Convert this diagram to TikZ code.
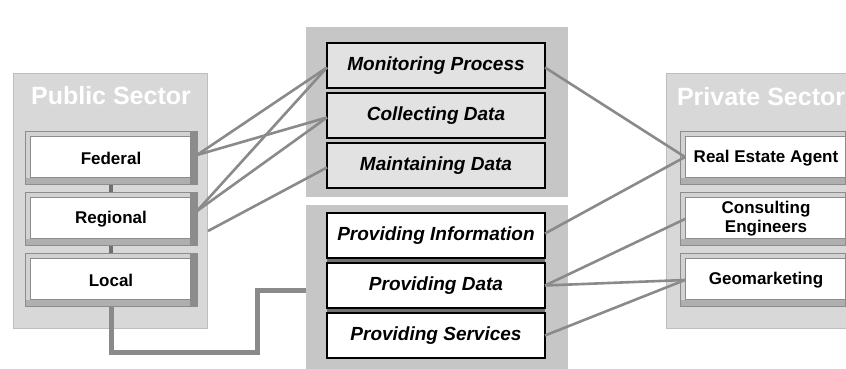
\documentclass[tikz,border=0pt]{standalone}
\usepackage{fontspec}
\setmainfont{Liberation Sans}
\usetikzlibrary{positioning,calc}

\definecolor{sectorfill}{RGB}{216,216,216}
\definecolor{sectorline}{RGB}{190,190,190}
\definecolor{taskpanel}{RGB}{198,198,198}
\definecolor{taskfill}{RGB}{226,226,226}
\definecolor{linkgray}{RGB}{138,138,138}
\definecolor{gapgray}{RGB}{112,112,112}
\definecolor{bevlight}{RGB}{210,210,210}
\definecolor{bevmid}{RGB}{175,175,175}
\definecolor{bevdark}{RGB}{140,140,140}

\pgfdeclarelayer{back}
\pgfdeclarelayer{mid}
\pgfsetlayers{back,mid,main}

\begin{document}
\begin{tikzpicture}[
      x=1pt, y=-1pt,
      every node/.style={inner sep=0pt, outer sep=0pt},
      panel/.style={anchor=north west, fill=sectorfill, draw=sectorline,
                    line width=0.8pt},
      mpanel/.style={anchor=north west, fill=taskpanel},
      title/.style={text=white, font=\fontsize{25}{28}\selectfont\bfseries},
      bevel/.style={draw=bevdark, line width=0.6pt, fill=bevlight,
                    minimum width=172pt, minimum height=53pt, align=center,
                    font=\fontsize{17}{19}\selectfont\bfseries,
                    path picture={
                      \fill[bevdark] ([xshift=-7pt]path picture bounding box.north east)
                        rectangle (path picture bounding box.south east);
                      \fill[bevmid] ([yshift=7pt]path picture bounding box.south west)
                        rectangle ([xshift=-7pt]path picture bounding box.south east);
                      \filldraw[fill=white, draw=bevdark, line width=0.5pt]
                        ([shift={(5pt,7pt)}]path picture bounding box.south west)
                        rectangle ([shift={(-7pt,-5pt)}]path picture bounding box.north east);
                    }},
      task/.style={draw=black, line width=2.2pt, minimum width=218pt,
                   minimum height=45pt,
                   font=\fontsize{19}{22}\selectfont\bfseries\itshape},
      taskup/.style={task, fill=taskfill},
      tasklow/.style={task, fill=white},
      link/.style={draw=linkgray, line width=2.6pt},
      stem/.style={draw=gapgray, line width=3.5pt},
      feed/.style={draw=linkgray, line width=5pt},
    ]
    \useasboundingbox (0,0) rectangle (846,369);

    % panels
    \begin{pgfonlayer}{back}
      \node[panel, minimum width=194pt, minimum height=255pt] (pubpanel) at (13,73) {};
      \node[mpanel, minimum width=262pt, minimum height=170pt] (uppanel) at (306,27) {};
      \node[mpanel, minimum width=262pt, minimum height=175pt] (lowpanel) at (306,205) {};
      \node[panel, minimum width=200pt, minimum height=255pt] (privpanel) at (666,73) {};
    \end{pgfonlayer}

    \node[title] (pubtitle) at (111,96) {Public Sector};
    \node[title, anchor=west] (privtitle) at (677,97) {Private Sector};

    % public sector
    \node[bevel] (fed) at (111,158) {Federal};
    \node[bevel, below=8pt of fed] (reg) {Regional};
    \node[bevel, below=8pt of reg] (loc) {Local};

    % tasks
    \node[taskup] (mon) at (436,65.5) {Monitoring Process};
    \node[taskup, below=5pt of mon] (coll) {Collecting Data};
    \node[taskup, below=5pt of coll] (maint) {Maintaining Data};

    \node[tasklow] (pinfo) at (436,235.5) {Providing Information};
    \node[tasklow, below=5pt of pinfo] (pdata) {Providing Data};
    \node[tasklow, below=5pt of pdata] (psvc) {Providing Services};

    \begin{pgfonlayer}{mid}
      \fill[gapgray] (pinfo.south west) rectangle (pdata.north east);
      \fill[gapgray] (pdata.south west) rectangle (psvc.north east);
    \end{pgfonlayer}

    % private sector
    \node[bevel] (agent) at (766,158) {Real Estate Agent};
    \node[bevel, below=8pt of agent] (eng) {Consulting\\Engineers};
    \node[bevel, below=8pt of eng] (geo) {Geomarketing};

    % links
    \begin{pgfonlayer}{mid}
      \draw[stem] (fed.south) -- (reg.north);
      \draw[stem] (reg.south) -- (loc.north);
    \end{pgfonlayer}
    \draw[link] ($(fed.east)+(0,-3)$) -- ($(mon.west)+(0,2)$);
    \draw[link] ($(fed.east)+(0,-3)$) -- ($(coll.west)+(0,2)$);
    \draw[link] ($(reg.east)+(0,-8)$) -- ($(mon.west)+(0,2)$);
    \draw[link] ($(reg.east)+(0,-8)$) -- ($(coll.west)+(0,2)$);
    \draw[link] ($(reg.east)+(11,12)$) -- ($(maint.west)+(0,2)$);

    \draw[link] ($(mon.east)+(0,2)$) -- ($(agent.west)+(5,-1)$);
    \draw[link] ($(pinfo.east)+(0,-2)$) -- ($(agent.west)+(5,-1)$);
    \draw[link] (pdata.east) -- ($(eng.west)+(5,0)$);
    \draw[link] (pdata.east) -- ($(geo.west)+(5,0)$);
    \draw[link] (psvc.east) -- ($(geo.west)+(5,0)$);

    \coordinate (lowpass) at (257,352);
    \coordinate (feedin) at ($(lowpanel.west |- pdata.west)+(0,5)$);
    \draw[feed] (loc.south) |- (lowpass) |- (feedin);
\end{tikzpicture}
\end{document}
